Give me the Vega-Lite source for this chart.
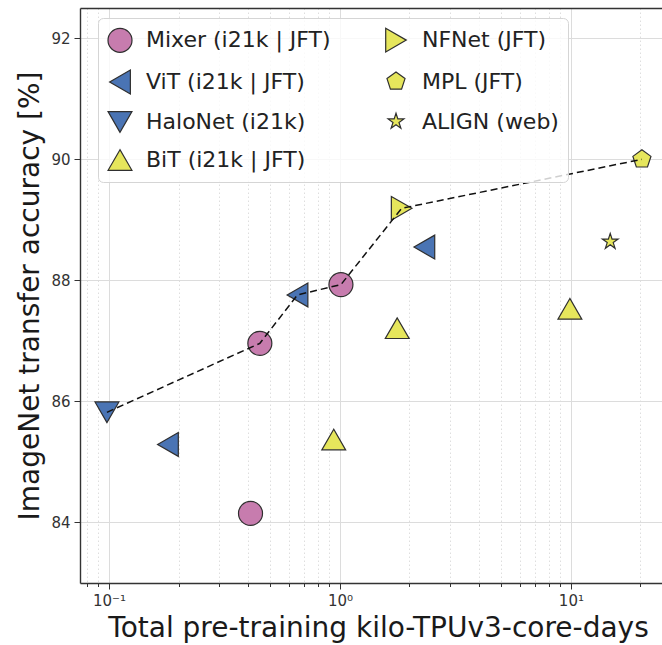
{
  "$schema": "https://vega.github.io/schema/vega-lite/v6.json",
  "width": 582,
  "height": 575,
  "autosize": {"type": "none"},
  "padding": {"left": 80, "top": 8, "right": 0, "bottom": 62},
  "background": "white",
  "config": {
    "font": "DejaVu Sans",
    "view": {"stroke": null},
    "axis": {
      "labelColor": "#333333",
      "tickColor": "#333333",
      "domainColor": "#333333",
      "domainWidth": 1.4,
      "tickWidth": 1,
      "labelFontSize": 15,
      "titleFontSize": 28,
      "titleFontWeight": "normal",
      "titleColor": "#1a1a1a",
      "gridColor": "#dcdcdc",
      "gridWidth": 1
    }
  },
  "data": {
    "values": [
      {"model": "Mixer (i21k | JFT)", "x": 0.41, "y": 84.15},
      {"model": "Mixer (i21k | JFT)", "x": 0.45, "y": 86.96, "front": 2},
      {"model": "Mixer (i21k | JFT)", "x": 1.01, "y": 87.93, "front": 4},
      {"model": "ViT (i21k | JFT)", "x": 0.18, "y": 85.29},
      {"model": "ViT (i21k | JFT)", "x": 0.655, "y": 87.76, "front": 3},
      {"model": "ViT (i21k | JFT)", "x": 2.32, "y": 88.55},
      {"model": "HaloNet (i21k)", "x": 0.098, "y": 85.82, "front": 1},
      {"model": "BiT (i21k | JFT)", "x": 0.94, "y": 85.37},
      {"model": "BiT (i21k | JFT)", "x": 1.77, "y": 87.21},
      {"model": "BiT (i21k | JFT)", "x": 9.9, "y": 87.53},
      {"model": "NFNet (JFT)", "x": 1.85, "y": 89.19, "front": 5},
      {"model": "MPL (JFT)", "x": 20.3, "y": 90.0, "front": 6},
      {"model": "ALIGN (web)", "x": 14.8, "y": 88.64}
    ]
  },
  "layer": [
    {
      "mark": {"type": "point", "opacity": 0},
      "encoding": {
        "x": {
          "field": "x", "type": "quantitative",
          "scale": {"type": "log", "domain": [0.0749, 24.8], "nice": false},
          "axis": {
            "orient": "bottom",
            "values": [0.08, 0.09, 0.2, 0.3, 0.4, 0.5, 0.6, 0.7, 0.8, 0.9, 2, 3, 4, 5, 6, 7, 8, 9, 20],
            "labels": false, "domain": false, "tickSize": 3.5,
            "grid": true, "gridDash": [1.5, 2.5], "gridColor": "#dedede",
            "title": null
          }
        },
        "y": {
          "field": "y", "type": "quantitative",
          "scale": {"domain": [83, 92.5], "nice": false, "zero": false},
          "axis": {"values": [84, 86, 88, 90, 92], "format": "d", "tickSize": 6, "labelPadding": 4, "grid": true, "titlePadding": 6, "title": "ImageNet transfer accuracy [%]"}
        }
      }
    },
    {
      "mark": {"type": "point", "opacity": 0},
      "encoding": {
        "x": {
          "field": "x", "type": "quantitative",
          "scale": {"type": "log", "domain": [0.0749, 24.8], "nice": false},
          "axis": {"orient": "top", "domain": true, "ticks": false, "labels": false, "grid": false, "title": null}
        },
        "y": {
          "field": "y", "type": "quantitative",
          "scale": {"domain": [83, 92.5], "nice": false, "zero": false},
          "axis": {"values": [84, 86, 88, 90, 92], "format": "d", "tickSize": 6, "labelPadding": 4, "grid": true, "titlePadding": 6, "title": "ImageNet transfer accuracy [%]"}
        }
      }
    },
    {
      "mark": {"type": "point", "filled": true, "opacity": 1, "stroke": "#2f2f2f", "strokeWidth": 1.2},
      "encoding": {
        "x": {
          "field": "x", "type": "quantitative",
          "scale": {"type": "log", "domain": [0.0749, 24.8], "nice": false},
          "axis": {
            "orient": "bottom",
            "values": [0.1, 1, 10],
            "labelExpr": "datum.value < 0.5 ? '10⁻¹' : datum.value < 5 ? '10⁰' : '10¹'",
            "tickSize": 6, "labelPadding": 4,
            "grid": true,
            "title": "Total pre-training kilo-TPUv3-core-days",
            "titlePadding": 6, "titleX": 298
          }
        },
        "y": {
          "field": "y", "type": "quantitative",
          "scale": {"domain": [83, 92.5], "nice": false, "zero": false},
          "axis": {"values": [84, 86, 88, 90, 92], "format": "d", "tickSize": 6, "labelPadding": 4, "grid": true, "titlePadding": 6, "title": "ImageNet transfer accuracy [%]"}
        },
        "color": {
          "field": "model", "type": "nominal",
          "scale": {
            "domain": ["Mixer (i21k | JFT)", "ViT (i21k | JFT)", "HaloNet (i21k)", "BiT (i21k | JFT)", "NFNet (JFT)", "MPL (JFT)", "ALIGN (web)"],
            "range": ["#c77cae", "#4a74b4", "#4a74b4", "#e6e65c", "#e6e65c", "#e6e65c", "#e6e65c"]
          },
          "legend": {
            "orient": "none", "legendX": 18, "legendY": 10,
            "columns": 2, "title": null,
            "labelFontSize": 22, "labelColor": "#222222", "labelLimit": 400,
            "symbolSize": 440, "symbolStrokeColor": "#2f2f2f", "symbolStrokeWidth": 1.2,
            "rowPadding": 12, "columnPadding": 52, "labelOffset": 13,
            "padding": 9,
            "fillColor": "rgba(255,255,255,0.8)", "strokeColor": "#d5d5d5", "cornerRadius": 5
          }
        },
        "shape": {
          "field": "model", "type": "nominal",
          "scale": {
            "domain": ["Mixer (i21k | JFT)", "ViT (i21k | JFT)", "HaloNet (i21k)", "BiT (i21k | JFT)", "NFNet (JFT)", "MPL (JFT)", "ALIGN (web)"],
            "range": [
              "circle",
              "triangle-left",
              "triangle-down",
              "triangle-up",
              "triangle-right",
              "M0,-0.8L0.761,-0.247L0.470,0.647L-0.470,0.647L-0.761,-0.247Z",
              "M0,-0.7L0.156,-0.215L0.666,-0.216L0.253,0.082L0.412,0.566L0,0.266L-0.412,0.566L-0.253,0.082L-0.666,-0.216L-0.156,-0.215Z"
            ]
          }
        },
        "size": {
          "field": "model", "type": "nominal",
          "scale": {
            "domain": ["Mixer (i21k | JFT)", "ViT (i21k | JFT)", "HaloNet (i21k)", "BiT (i21k | JFT)", "NFNet (JFT)", "MPL (JFT)", "ALIGN (web)"],
            "range": [576, 560, 580, 600, 580, 840, 1200]
          },
          "legend": null
        }
      }
    },
    {
      "transform": [{"filter": "isValid(datum.front)"}],
      "mark": {"type": "line", "color": "#111111", "strokeDash": [7, 4], "strokeWidth": 1.5},
      "encoding": {
        "x": {"field": "x", "type": "quantitative", "scale": {"type": "log", "domain": [0.0749, 24.8], "nice": false}, "axis": null},
        "y": {
          "field": "y", "type": "quantitative",
          "scale": {"domain": [83, 92.5], "nice": false, "zero": false},
          "axis": {"values": [84, 86, 88, 90, 92], "format": "d", "tickSize": 6, "labelPadding": 4, "grid": true, "titlePadding": 6, "title": "ImageNet transfer accuracy [%]"}
        },
        "order": {"field": "front", "type": "quantitative"}
      }
    }
  ],
  "resolve": {"axis": {"x": "independent"}}
}
